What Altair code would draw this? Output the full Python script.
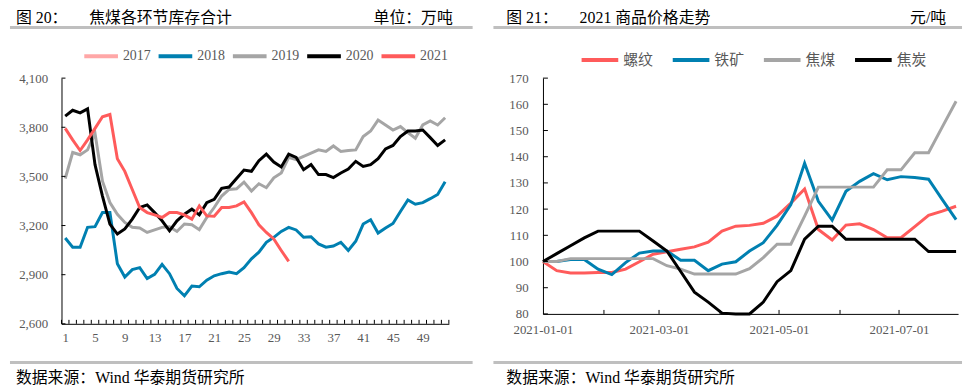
import altair as alt
import pandas as pd

# ---------------- data: left chart (焦煤各环节库存合计, 万吨) ----------------
weeks = list(range(1, 53))
years = ["2017", "2018", "2019", "2020", "2021"]
year_colors = ["#FFA7A7", "#0080B1", "#A5A5A5", "#000000", "#FF5B5B"]

s2017 = []
s2018 = [3124, 3068, 3068, 3189, 3193, 3279, 3279, 2967, 2886, 2931, 2943, 2876, 2902,
         2963, 2906, 2816, 2771, 2830, 2826, 2866, 2893, 2906, 2916, 2906, 2943, 2997,
         3037, 3098, 3128, 3164, 3189, 3173, 3128, 3132, 3088, 3068, 3075, 3098, 3048,
         3104, 3209, 3235, 3154, 3185, 3213, 3286, 3356, 3330, 3340, 3364, 3390, 3467]
s2019 = [3487, 3646, 3632, 3662, 3763, 3471, 3340, 3269, 3219, 3189, 3185, 3158, 3173,
         3189, 3193, 3164, 3209, 3205, 3175, 3249, 3310, 3380, 3420, 3424, 3465, 3411,
         3455, 3431, 3491, 3521, 3616, 3602, 3622, 3642, 3662, 3652, 3686, 3652, 3658,
         3662, 3743, 3777, 3844, 3814, 3783, 3804, 3767, 3733, 3814, 3838, 3814, 3858]
s2020 = [3868, 3904, 3888, 3912, 3572, 3380, 3209, 3148, 3179, 3239, 3310, 3326, 3279,
         3229, 3168, 3229, 3269, 3300, 3265, 3340, 3360, 3427, 3435, 3487, 3539, 3531,
         3596, 3636, 3588, 3558, 3636, 3616, 3541, 3572, 3511, 3511, 3493, 3521, 3545,
         3592, 3561, 3572, 3608, 3668, 3689, 3743, 3777, 3777, 3783, 3737, 3689, 3723]
s2021 = [3793, 3723, 3658, 3723, 3793, 3864, 3878, 3608, 3531, 3420, 3310, 3279, 3265,
         3249, 3279, 3279, 3265, 3239, 3320, 3259, 3257, 3310, 3310, 3320, 3344, 3279,
         3205, 3158, 3118, 3048, 2981]
left_x_labels = [1, 5, 9, 13, 17, 21, 25, 29, 33, 37, 41, 45, 49]
left_y_ticks = [2600, 2900, 3200, 3500, 3800, 4100]

# ---------------- data: right chart (2021 商品价格走势) ----------------
dates = ["2021-01-01", "2021-01-08", "2021-01-15", "2021-01-22", "2021-01-29",
         "2021-02-05", "2021-02-12", "2021-02-19", "2021-02-26", "2021-03-05",
         "2021-03-12", "2021-03-19", "2021-03-26", "2021-04-02", "2021-04-09",
         "2021-04-16", "2021-04-23", "2021-04-30", "2021-05-07", "2021-05-14",
         "2021-05-21", "2021-05-28", "2021-06-04", "2021-06-11", "2021-06-18",
         "2021-06-25", "2021-07-02", "2021-07-09", "2021-07-16", "2021-07-23",
         "2021-07-30"]
commodities = ["螺纹", "铁矿", "焦煤", "焦炭"]
commodity_colors = ["#FF5B5B", "#0080B1", "#A5A5A5", "#000000"]
rebar = [100, 96.5, 95.6, 95.6, 95.8, 95.8, 97.1, 99.9, 102.8, 103.7, 104.7, 105.6,
         107.4, 111.6, 113.5, 113.8, 114.6, 117.3, 122.3, 127.7, 112.2, 108.2, 113.9,
         114.4, 112.2, 109.1, 109.1, 113.3, 117.6, 119.2, 121.1]
iron_ore = [100, 100, 100.8, 100.8, 97.1, 95.0, 99.6, 103.2, 104, 104, 100.5, 100.5,
            96.5, 99, 99.9, 104, 107.2, 113.8, 121.7, 137.5, 123, 115.8, 126.8, 130.6,
            133.5, 131.2, 132.4, 132.1, 131.4, 123.6, 116]
coking_coal = [100, 100, 101.1, 101.1, 101.1, 101.1, 101.1, 101.1, 101.1, 98.4, 97.1,
               95.2, 95.2, 95.2, 95.2, 97.3, 101.5, 106.6, 106.6, 117.3, 128.4, 128.4,
               128.4, 128.4, 128.4, 135, 135, 141.5, 141.5, 151.4, 161.2]
coke = [100, 103, 106, 109, 111.6, 111.6, 111.6, 111.6, 107.8, 104, 96.2, 88.3, 84.5,
        80.3, 80, 80, 84.5, 92.3, 96.5, 108.5, 113.5, 113.5, 108.5, 108.5, 108.5, 108.5,
        108.5, 108.5, 103.8, 103.8, 103.8]
right_x_labels = ["2021-01-01", "2021-03-01", "2021-05-01", "2021-07-01"]
right_x_ticks = ["2021-02-01", "2021-03-01", "2021-04-01", "2021-05-01", "2021-06-01",
                 "2021-07-01"]
right_x_domain = ["2021-01-01", "2021-07-31"]
right_y_ticks = [80, 90, 100, 110, 120, 130, 140, 150, 160, 170]

# ---------------- texts ----------------
left_fig = "图 20："
left_title = "焦煤各环节库存合计"
left_unit = "单位：万吨"
right_fig = "图 21："
right_title = "2021 商品价格走势"
right_unit = "元/吨"
source = "数据来源：Wind  华泰期货研究所"

FONT = "Liberation Serif, Noto Sans CJK SC"
CJK = "Noto Sans CJK SC"
LABEL_COLOR = "#595959"
RULE_COLOR = "#BFBFBF"

W1, H1 = 391, 248
W2, H2 = 419, 238


def text_layer(t, x, y, align="left", size=16):
    return alt.Chart(pd.DataFrame({"t": [t]})).mark_text(
        align=align, baseline="middle", fontSize=size, font=FONT, color="#000000"
    ).encode(x=alt.value(x), y=alt.value(y), text="t:N")


def hrule(x1, x2, y):
    return alt.Chart(pd.DataFrame({"a": [0]})).mark_rule(
        color=RULE_COLOR, strokeWidth=3
    ).encode(x=alt.value(x1), x2=alt.value(x2), y=alt.value(y))


# ---------------- left chart ----------------
rows = []
for yr, ser in zip(years, [s2017, s2018, s2019, s2020, s2021]):
    for w, v in zip(weeks, ser):
        rows.append({"week": w, "value": v, "year": yr})
df_left = pd.DataFrame(rows)

lx_axis = alt.Axis(values=left_x_labels, format="d", ticks=False, tickSize=0,
                   labelPadding=8, domainColor="#000000", grid=False, title=None,
                   labelFont=FONT, labelFontSize=13, labelColor=LABEL_COLOR,
                   labelFlush=False)
ly_axis = alt.Axis(values=left_y_ticks, labelExpr="format(datum.value, ',.0f')",
                   ticks=False, tickSize=0,
                   labelPadding=14, domainColor="#000000", grid=False, title=None,
                   labelFont=FONT, labelFontSize=13, labelColor=LABEL_COLOR)
lx = dict(scale=alt.Scale(domain=[0.5, 52.5], nice=False, zero=False), axis=lx_axis)
ly = dict(scale=alt.Scale(domain=[2600, 4100], nice=False, zero=False), axis=ly_axis)

left_lines = alt.Chart(df_left).mark_line(strokeWidth=3).encode(
    x=alt.X("week:Q", **lx),
    y=alt.Y("value:Q", **ly),
    color=alt.Color("year:N", scale=alt.Scale(domain=years, range=year_colors),
                    legend=alt.Legend(orient="none", legendX=21, legendY=-41,
                                      direction="horizontal", symbolType="stroke",
                                      symbolSize=1156, symbolStrokeWidth=4,
                                      labelFont=FONT, labelFontSize=14,
                                      labelColor=LABEL_COLOR, labelOffset=3,
                                      columnPadding=0, padding=0, title=None)),
)
left_xticks = alt.Chart(pd.DataFrame({"week": [w - 0.5 for w in weeks] + [weeks[-1] + 0.5]})).mark_rule(
    color="#000000", strokeWidth=1).encode(x=alt.X("week:Q", **lx), y=alt.value(H1 - 4), y2=alt.value(H1))
left_yticks = alt.Chart(pd.DataFrame({"value": left_y_ticks})).mark_rule(
    color="#000000", strokeWidth=1).encode(y=alt.Y("value:Q", **ly), x=alt.value(0), x2=alt.value(4))

left = alt.layer(
    left_lines, left_xticks, left_yticks,
    hrule(-52, 415, -51), text_layer(left_fig, -46, -61), text_layer(left_title, 28, -61),
    text_layer(left_unit, 395, -61, align="right"),
    hrule(-52, 415, 287), text_layer(source, -46, 303),
).properties(width=W1, height=H1)

# ---------------- right chart ----------------
rows = []
for c, ser in zip(commodities, [rebar, iron_ore, coking_coal, coke]):
    for d, v in zip(dates, ser):
        rows.append({"date": d, "price": v, "commodity": c})
df_right = pd.DataFrame(rows)


def dt(s):
    y, m, d = (int(p) for p in s.split("-"))
    return alt.DateTime(year=y, month=m, date=d, utc=True)


rx_axis = alt.Axis(values=[dt(s) for s in right_x_labels], format="%Y-%m-%d",
                   ticks=False, tickSize=0, labelPadding=10, domainColor="#000000",
                   grid=False, title=None, labelFont=FONT, labelFontSize=13,
                   labelColor=LABEL_COLOR, labelFlush=False)
ry_axis = alt.Axis(values=right_y_ticks, ticks=False, tickSize=0, labelPadding=15,
                   domainColor="#000000", grid=False, title=None, labelFont=FONT,
                   labelFontSize=13, labelColor=LABEL_COLOR)
rx = dict(scale=alt.Scale(type="utc", domain=[dt(s) for s in right_x_domain], nice=False),
          axis=rx_axis)
ry = dict(scale=alt.Scale(domain=[80, 170], nice=False, zero=False), axis=ry_axis)

right_lines = alt.Chart(df_right).mark_line(strokeWidth=3).encode(
    x=alt.X("date:T", **rx),
    y=alt.Y("price:Q", **ry),
    color=alt.Color("commodity:N", scale=alt.Scale(domain=commodities, range=commodity_colors),
                    sort=commodities,
                    legend=alt.Legend(orient="none", legendX=37, legendY=-39,
                                      direction="horizontal", symbolType="stroke",
                                      symbolSize=1369, symbolStrokeWidth=4,
                                      labelFont=CJK, labelFontSize=15,
                                      labelColor=LABEL_COLOR, labelOffset=3,
                                      columnPadding=11, padding=0, title=None)),
)
right_xticks = alt.Chart(pd.DataFrame({"date": right_x_ticks})).mark_rule(
    color="#000000", strokeWidth=1).encode(x=alt.X("date:T", **rx), y=alt.value(H2 - 4), y2=alt.value(H2))
right_yticks = alt.Chart(pd.DataFrame({"price": right_y_ticks})).mark_rule(
    color="#000000", strokeWidth=1).encode(y=alt.Y("price:Q", **ry), x=alt.value(0), x2=alt.value(5))

right = alt.layer(
    right_lines, right_xticks, right_yticks,
    hrule(-50, 423, -51), text_layer(right_fig, -37, -61), text_layer(right_title, 37, -61),
    text_layer(right_unit, 407, -61, align="right"),
    hrule(-50, 423, 287), text_layer(source, -37, 303),
).properties(width=W2, height=H2)

chart = alt.hconcat(left, right, spacing=95, bounds="flush").resolve_scale(
    color="independent"
).configure_view(stroke=None).properties(padding=0, background="white")

chart.save("out.html", embed_options={"renderer": "svg", "actions": False})
